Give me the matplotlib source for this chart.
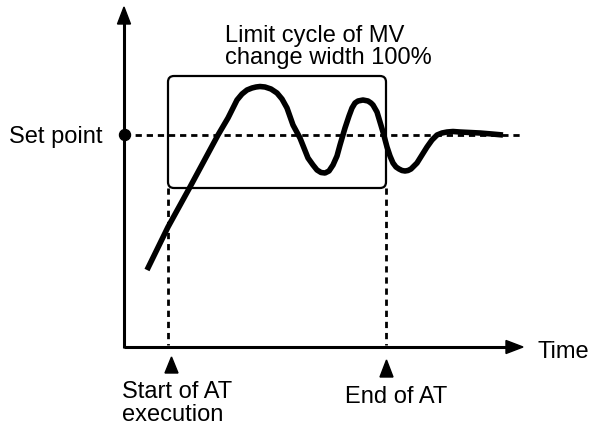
import numpy as np
import matplotlib
matplotlib.use("Agg")
import matplotlib.pyplot as plt
from matplotlib.patches import FancyBboxPatch, Polygon, Circle

plt.rcParams["font.family"] = ["Liberation Sans", "DejaVu Sans"]
plt.rcParams["lines.scale_dashes"] = False

# 응답 곡선 (picture coords: x right, y down)
curve_x = [147, 168, 190, 218, 228, 233, 237, 242, 247, 252, 256, 260, 265,
           271, 277, 282, 287, 293, 300, 308, 313, 317, 321, 325, 329, 333,
           337, 340, 345, 349, 352, 355, 358, 363, 368, 371, 373, 377, 380,
           383, 387, 390, 393, 396, 399, 402, 405, 408, 411, 414, 417, 422,
           427, 432, 437, 442, 447, 453, 460, 470, 480, 492, 503]
curve_y = [270, 227, 187, 135, 118, 108, 100, 94, 90, 88, 87, 86.5, 87,
           89, 93, 99, 108, 125, 138, 158, 165, 170, 172.5, 173, 171, 165,
           156, 145, 128, 116, 108, 103, 101, 100, 101, 103, 105, 112, 122,
           132, 147, 156, 163, 167, 169, 170.5, 171, 170.5, 169, 166, 163, 155,
           147, 140, 135, 133, 132, 131.5, 132, 132.5, 133, 134, 135]

set_point_y = 135
at_start_x = 168
at_end_x = 386
box_top, box_bottom = 76, 188
origin = (124, 347)
x_axis_end = 523
y_axis_end = 7

FS = 17

fig = plt.figure(figsize=(5.92, 4.26), dpi=100)
ax = fig.add_axes([0, 0, 1, 1])
ax.set_xlim(0, 592)
ax.set_ylim(426, 0)
ax.axis("off")

# axes with arrow heads
ax.plot([origin[0], x_axis_end - 14], [origin[1], origin[1]], color="black", lw=2.2,
        solid_capstyle="butt")
ax.plot([origin[0], origin[0]], [origin[1] + 1, y_axis_end + 14], color="black", lw=2.2,
        solid_capstyle="butt")
ax.add_patch(Polygon([[x_axis_end, origin[1]], [x_axis_end - 17, origin[1] - 6.5],
                      [x_axis_end - 17, origin[1] + 6.5]], closed=True, color="black"))
ax.add_patch(Polygon([[origin[0], y_axis_end], [origin[0] - 6.5, y_axis_end + 17],
                      [origin[0] + 6.5, y_axis_end + 17]], closed=True, color="black"))

# set point
ax.plot([origin[0], x_axis_end], [set_point_y, set_point_y], color="black", lw=2.0,
        dashes=(4.5, 3.5))
ax.add_patch(Circle((origin[0] + 1, set_point_y), 5.5, color="black", zorder=5))

# AT start / end dashed lines
for x in (at_start_x, at_end_x):
    ax.plot([x, x], [box_bottom, origin[1] - 2], color="black", lw=2.0, dashes=(4.5, 3.5))

# limit cycle box
ax.add_patch(FancyBboxPatch((at_start_x, box_top), at_end_x - at_start_x, box_bottom - box_top,
                            boxstyle="round,pad=0,rounding_size=6", fill=False,
                            ec="black", lw=1.6))

# response curve
ax.plot(curve_x, curve_y, color="black", lw=4.0, solid_joinstyle="round",
        solid_capstyle="butt", zorder=4)

# markers below the time axis
ax.add_patch(Polygon([[171.5, 357], [165, 373], [178, 373]], closed=True, color="black"))
ax.add_patch(Polygon([[386.5, 360], [380, 377], [393, 377]], closed=True, color="black"))

# texts
ax.text(9, set_point_y, "Set point", fontsize=FS, ha="left", va="center_baseline")
ax.text(537, 350, "Time", fontsize=FS, ha="left", va="center_baseline")
ax.text(225, 42, "Limit cycle of MV", fontsize=FS, ha="left", va="baseline")
ax.text(225, 64, "change width 100%", fontsize=FS, ha="left", va="baseline")
ax.text(122, 398, "Start of AT", fontsize=FS, ha="left", va="baseline")
ax.text(122, 421, "execution", fontsize=FS, ha="left", va="baseline")
ax.text(345, 403, "End of AT", fontsize=FS, ha="left", va="baseline")

fig.savefig("out.png", dpi=100)
